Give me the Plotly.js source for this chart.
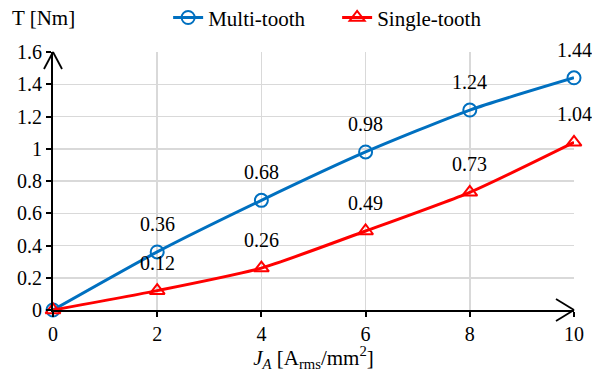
<!DOCTYPE html>
<html>
<head>
<meta charset="utf-8">
<script src="https://cdn.plot.ly/plotly-3.0.1.min.js"></script>
<style>html,body{margin:0;padding:0;background:#fff;}#chart{width:592px;height:372px;}</style>
</head>
<body>
<div id="chart"></div>
<script>
const currentDensity = [0, 2, 4, 6, 8, 10];
const multiTooth = [0, 0.36, 0.68, 0.98, 1.24, 1.44];
const singleTooth = [0, 0.12, 0.26, 0.49, 0.73, 1.04];
const seriesNames = ['Multi-tooth', 'Single-tooth'];
const xTicks = [0, 2, 4, 6, 8, 10];

const font = 'Liberation Serif';
const fs = 20;
const fsBig = 21;
const blue = '#0070C0';
const red = '#FF0000';

const traces = [
  {x: currentDensity, y: multiTooth, name: seriesNames[0], mode: 'lines+markers',
   line: {color: blue, width: 3, shape: 'spline', smoothing: 0.6},
   marker: {symbol: 'circle-open', size: 13, color: blue, line: {width: 2, color: blue}},
   cliponaxis: false},
  {x: currentDensity, y: singleTooth, name: seriesNames[1], mode: 'lines+markers',
   line: {color: red, width: 3, shape: 'spline', smoothing: 0.6},
   marker: {symbol: 'triangle-up-open', size: 13, color: red, line: {width: 2, color: red}},
   cliponaxis: false}
];

const annotations = [];
function labelSeries(ys) {
  ys.forEach((v, i) => {
    if (i === 0) return;
    annotations.push({x: currentDensity[i], y: v, xref: 'x', yref: 'y', text: v.toFixed(2),
      showarrow: false, yshift: 28, yanchor: 'middle', font: {family: font, size: fs, color: '#000'}});
  });
}
labelSeries(multiTooth);
labelSeries(singleTooth);
annotations.push({xref: 'paper', yref: 'paper', x: -0.083, y: 1.13, xanchor: 'left', yanchor: 'middle',
  text: 'T [Nm]', showarrow: false, font: {family: font, size: fsBig, color: '#000'}});

const arrowLine = {color: '#000', width: 1.8};
const shapes = [
  {type: 'line', xref: 'paper', yref: 'paper', xsizemode: 'pixel', ysizemode: 'pixel', xanchor: 0, yanchor: 1,
   x0: 0, y0: 0, x1: -9, y1: -17, line: arrowLine},
  {type: 'line', xref: 'paper', yref: 'paper', xsizemode: 'pixel', ysizemode: 'pixel', xanchor: 0, yanchor: 1,
   x0: 0, y0: 0, x1: 9, y1: -17, line: arrowLine},
  {type: 'line', xref: 'paper', yref: 'paper', xsizemode: 'pixel', ysizemode: 'pixel', xanchor: 1, yanchor: 0,
   x0: 0, y0: 0, x1: -18, y1: 11, line: arrowLine},
  {type: 'line', xref: 'paper', yref: 'paper', xsizemode: 'pixel', ysizemode: 'pixel', xanchor: 1, yanchor: 0,
   x0: 0, y0: 0, x1: -18, y1: -11, line: arrowLine}
];

const layout = {
  width: 592, height: 372,
  margin: {l: 53, r: 18, t: 52, b: 62},
  paper_bgcolor: '#fff', plot_bgcolor: '#fff',
  font: {family: font, size: fs, color: '#000'},
  showlegend: true,
  legend: {orientation: 'h', x: 0.284, y: 0.952, xref: 'container', yref: 'container', xanchor: 'left', yanchor: 'middle',
    font: {family: font, size: fsBig, color: '#000'}, bgcolor: 'rgba(0,0,0,0)',
    entrywidth: 124, entrywidthmode: 'pixels'},
  xaxis: {range: [0, 10], tickvals: xTicks, showgrid: true, gridcolor: '#d9d9d9', gridwidth: 1.5,
    zeroline: false, showline: true, linecolor: '#000', linewidth: 2,
    ticks: 'outside', ticklen: 5, tickwidth: 2, tickcolor: '#000',
    tickfont: {family: font, size: fs, color: '#000'},
    title: {text: '<i>J</i><sub><i>A</i></sub> [A<sub>rms</sub>/mm<sup>2</sup>]', standoff: 6,
      font: {family: font, size: fsBig, color: '#000'}}},
  yaxis: {range: [0, 1.6], dtick: 0.2, showgrid: true, gridcolor: '#d9d9d9', gridwidth: 1.5,
    zeroline: false, showline: true, linecolor: '#000', linewidth: 2,
    ticks: 'outside', ticklen: 5, tickwidth: 2, tickcolor: '#000',
    tickfont: {family: font, size: fs, color: '#000'}},
  annotations: annotations,
  shapes: shapes
};

Plotly.newPlot('chart', traces, layout, {displayModeBar: false, staticPlot: true});
</script>
</body>
</html>
